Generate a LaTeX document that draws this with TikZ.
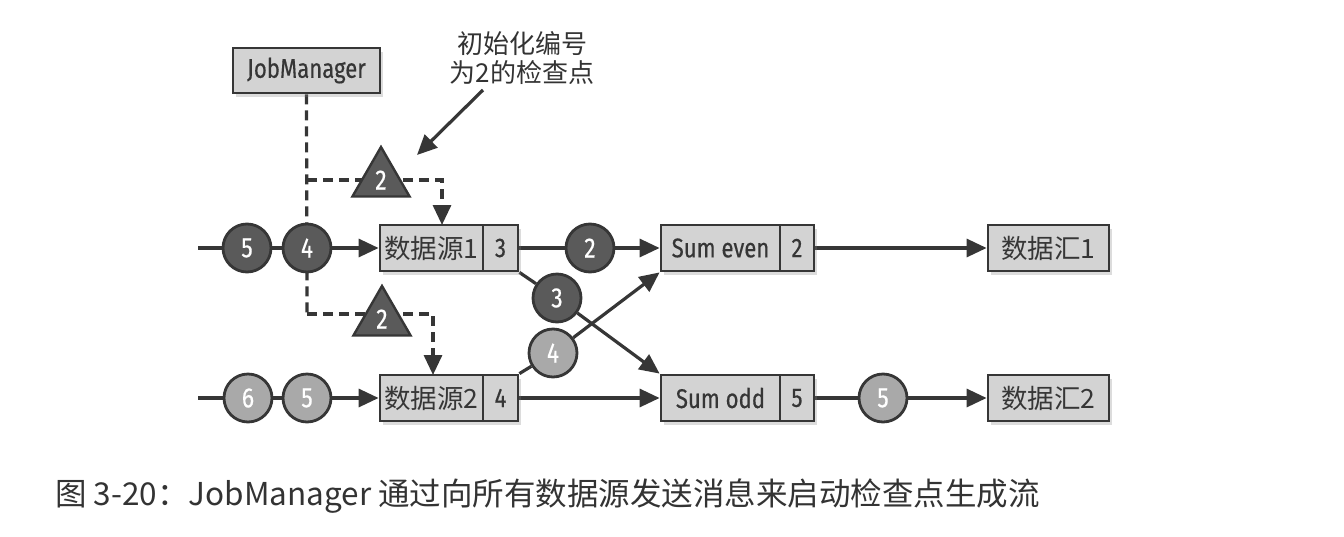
\documentclass[tikz,border=0pt]{standalone}
\usepackage{fontspec}
\setmainfont{Noto Sans CJK SC}
\newfontfamily\cjk{Noto Sans CJK SC}
\newfontfamily\cond[FakeStretch=0.82,FakeBold=0.4]{Fira Sans}
\usetikzlibrary{arrows.meta,shapes.geometric,shadows}
\pgfdeclarelayer{background}
\pgfsetlayers{background,main}

\definecolor{ink}{HTML}{363636}
\definecolor{boxgray}{HTML}{D3D3D3}
\definecolor{tokdark}{HTML}{5A5A5A}
\definecolor{toklight}{HTML}{A9A9A9}
\definecolor{captext}{HTML}{333333}

\tikzset{
  box/.style={draw=ink, line width=2.8pt, fill=boxgray, inner sep=0pt,
    drop shadow={shadow xshift=3pt, shadow yshift=-4pt, opacity=0.28}},
  latinlbl/.style={text=ink, font=\cond\fontsize{27}{27}\selectfont},
  cjklbl/.style={text=ink, font=\cjk\fontsize{26.5}{26.5}\selectfont},
  tok/.style={circle, draw=ink, line width=2.8pt, minimum size=48pt,
    inner sep=0pt, text=white, font=\cond\fontsize{28}{28}\selectfont},
  dtok/.style={tok, fill=tokdark},
  ltok/.style={tok, fill=toklight},
  barrier/.style={regular polygon, regular polygon sides=3, minimum size=66pt,
    inner sep=0pt, fill=tokdark, draw=ink, line width=2.4pt, text=white,
    font=\cond\fontsize{28}{28}\selectfont},
  flow/.style={draw=ink, line width=3.2pt},
  flowtip/.style={-{Triangle[length=20pt,width=18pt]}},
  divider/.style={draw=ink, line width=2.8pt},
  dsh/.style={draw=ink, line width=3.2pt, dash pattern=on 10pt off 6pt},
}

\begin{document}
\begin{tikzpicture}[x=1pt,y=-1pt]
\useasboundingbox (0,0) rectangle (1344,536);

% job manager
\node[box, latinlbl, minimum width=147, minimum height=45] (jm) at (306.5,70.5) {JobManager};

% annotation
\node[text=captext, font=\cjk\fontsize{26}{29.5}\selectfont, align=center] (note) at (522,58)
  {初始化编号\\为2的检查点};

% sources
\node[box, minimum width=138, minimum height=46] (src1) at (449,248) {};
\node[cjklbl] (src1t) at (431.5,248) {数据源1};
\node[latinlbl] (src1n) at (500.5,248) {3};
\node[box, minimum width=138, minimum height=46] (src2) at (449,398) {};
\node[cjklbl] (src2t) at (431.5,398) {数据源2};
\node[latinlbl] (src2n) at (500.5,398) {4};

% operators
\node[box, minimum width=153, minimum height=46] (sumeven) at (737.5,248) {};
\node[latinlbl] (sumevent) at (720.5,248) {Sum even};
\node[latinlbl] (sumevenn) at (797,248) {2};
\node[box, minimum width=153, minimum height=46] (sumodd) at (737.5,398) {};
\node[latinlbl] (sumoddt) at (720.5,398) {Sum odd};
\node[latinlbl] (sumoddn) at (797,398) {5};

\draw[divider] (483,225) -- (483,271);
\draw[divider] (483,375) -- (483,421);
\draw[divider] (780,225) -- (780,271);
\draw[divider] (780,375) -- (780,421);

% sinks
\node[box, cjklbl, minimum width=121, minimum height=46] (sink1) at (1048.5,248) {数据汇1};
\node[box, cjklbl, minimum width=121, minimum height=46] (sink2) at (1048.5,398) {数据汇2};

% records
\node[dtok] (r15) at (247,248) {5};
\node[dtok] (r14) at (307,248) {4};
\node[ltok] (r26) at (248,398) {6};
\node[ltok] (r25) at (307,398) {5};
\node[dtok] (e2) at (590,248) {2};
\node[dtok] (o3) at (557,298) {3};
\node[ltok] (e4) at (553,353) {4};
\node[ltok] (o5) at (883,398) {5};

% checkpoint barriers
\node[barrier] (b1) at (381,180) {2};
\node[barrier] (b2) at (382,319) {2};

\coordinate (in1) at (198,248);
\coordinate (in2) at (198,398);
\coordinate (j1) at (307,180);
\coordinate (j2) at (307,314);
\coordinate (d1) at (442,225);
\coordinate (d2) at (433,375);

\begin{pgfonlayer}{background}
  % barrier injection
  \draw[dsh] (jm.south) -- (j2);
  \draw[dsh, -{Triangle[length=20pt,width=18pt]}] (j1) -| (d1);
  \draw[dsh, -{Triangle[length=20pt,width=18pt]}] (j2) -| (d2);

  % stream 1
  \draw[flow] (in1) -- (r15);
  \draw[flow] (r15) -- (r14);
  \draw[flow, flowtip] (r14) -- (src1);
  \draw[flow] (src1.east) -- (e2);
  \draw[flow, flowtip] (e2) -- (sumeven);
  \draw[flow] (src1.south east) -- (o3);
  \draw[flow, flowtip] (o3) -- (sumodd.north west);
  \draw[flow, flowtip] (sumeven) -- (sink1);

  % stream 2
  \draw[flow] (in2) -- (r26);
  \draw[flow] (r26) -- (r25);
  \draw[flow, flowtip] (r25) -- (src2);
  \draw[flow] (src2.north east) -- (e4);
  \draw[flow, flowtip] (e4) -- (sumeven.south west);
  \draw[flow, flowtip] (src2) -- (sumodd);
  \draw[flow] (sumodd) -- (o5);
  \draw[flow, flowtip] (o5) -- (sink2);
\end{pgfonlayer}

% annotation pointer
\coordinate (np) at (417,155);
\draw[flow, flowtip] (483,90) -- (np);

% caption
\node[anchor=west, text=captext, font=\cjk\fontsize{31.5}{31.5}\selectfont, inner sep=0pt] (cap) at (55,496)
  {图 3-20：JobManager 通过向所有数据源发送消息来启动检查点生成流};
\end{tikzpicture}
\end{document}
